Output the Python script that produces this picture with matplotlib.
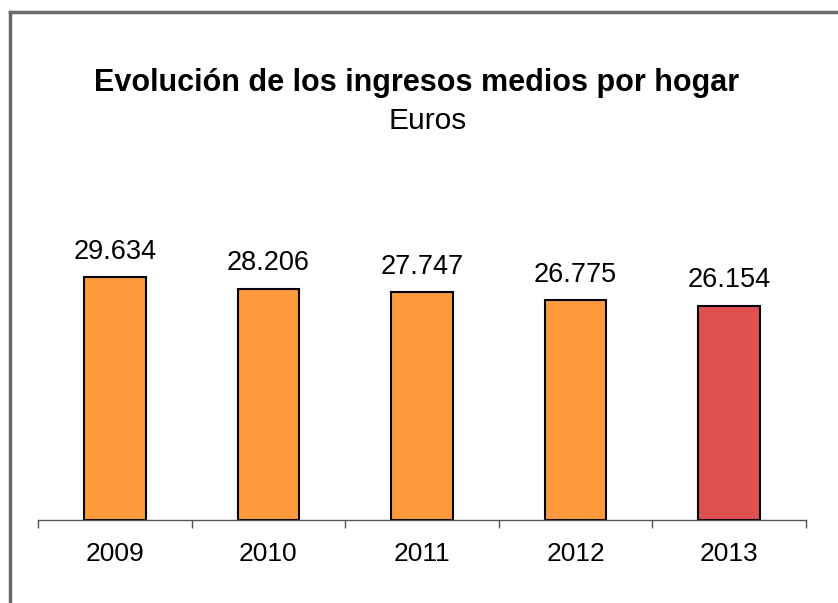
import matplotlib.pyplot as plt
from matplotlib.lines import Line2D

years = ['2009', '2010', '2011', '2012', '2013']
ingresos = [29634, 28206, 27747, 26775, 26154]
etiquetas = ['29.634', '28.206', '27.747', '26.775', '26.154']
colores = ['#FF9A3C', '#FF9A3C', '#FF9A3C', '#FF9A3C', '#E05050']

plt.rcParams['font.family'] = ['Liberation Sans', 'DejaVu Sans']

fig = plt.figure(figsize=(8.38, 6.03), dpi=100)

# marco gris (solo arriba e izquierda, como en la captura)
fig.add_artist(Line2D([10/838, 1], [1 - 12/603, 1 - 12/603], color='#6a6a6a', lw=2.5))
fig.add_artist(Line2D([10/838, 10/838], [0, 1 - 12/603], color='#6a6a6a', lw=2.5))

fig.text(417/838, 1 - 83/603, 'Evolución de los ingresos medios por hogar',
         ha='center', va='center', fontsize=22, fontweight='bold')
fig.text(428/838, 1 - 121/603, 'Euros', ha='center', va='center', fontsize=21.5)

ax = fig.add_axes([38/838, 1 - 520/603, 768/838, 328/603])
x = range(len(years))
bars = ax.bar(x, ingresos, width=0.4, color=colores, edgecolor='black', linewidth=1.5)

for b, t in zip(bars, etiquetas):
    ax.annotate(t, (b.get_x() + b.get_width()/2, b.get_height()),
                xytext=(0, 9), textcoords='offset points',
                ha='center', va='bottom', fontsize=19.5)

ax.set_xlim(-0.5, 4.5)
ax.set_ylim(0, 40000)
ax.set_xticks(list(x))
ax.set_xticklabels(years, fontsize=19)
ax.set_xticks([i - 0.5 for i in range(len(years) + 1)], minor=True)
ax.tick_params(axis='x', which='major', length=0, pad=16)
ax.tick_params(axis='x', which='minor', length=6, width=1, color='#555555', direction='out')
ax.set_yticks([])
for s in ['top', 'right', 'left']:
    ax.spines[s].set_visible(False)
ax.spines['bottom'].set_color('#555555')
ax.spines['bottom'].set_linewidth(1)

fig.savefig('out.png', dpi=100)
